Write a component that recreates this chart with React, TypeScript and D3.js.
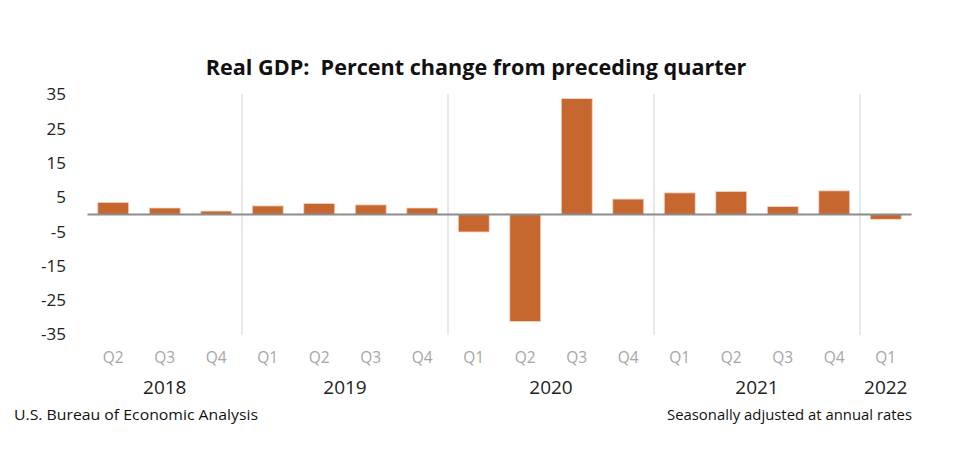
import React from "react";
import * as d3 from "d3";

const quarters = ["Q2","Q3","Q4","Q1","Q2","Q3","Q4","Q1","Q2","Q3","Q4","Q1","Q2","Q3","Q4","Q1"];
const quarterYears = [2018,2018,2018,2019,2019,2019,2019,2020,2020,2020,2020,2021,2021,2021,2021,2022];
const gdpChange = [3.5, 1.9, 1.0, 2.5, 3.2, 2.8, 1.9, -5.1, -31.2, 33.8, 4.5, 6.3, 6.7, 2.3, 6.9, -1.4];
const yTicks = [35, 25, 15, 5, -5, -15, -25, -35];
const years = [2018, 2019, 2020, 2021, 2022];

const W = 960, H = 459;
const FONT = "'Open Sans', sans-serif";

export default function App() {
  const keys = quarters.map((q, i) => `${quarterYears[i]}${q}`);
  const x = d3.scaleBand<string>().domain(keys).range([87.5, 911.5]).paddingInner(0.4).paddingOuter(0.2);
  const y = d3.scaleLinear().domain([-35, 35]).range([334.5, 94.5]);
  const step = x.step();
  const half = (x.paddingInner() * step) / 2;

  const dividers: number[] = [];
  keys.forEach((k, i) => {
    if (i > 0 && quarterYears[i] !== quarterYears[i - 1]) dividers.push((x(k) as number) - half);
  });

  const yearCenters = years.map((yr) => {
    const idx = keys.map((k, i) => i).filter((i) => quarterYears[i] === yr);
    const a = (x(keys[idx[0]]) as number) + x.bandwidth() / 2;
    const b = (x(keys[idx[idx.length - 1]]) as number) + x.bandwidth() / 2;
    return { yr, cx: (a + b) / 2 };
  });

  return (
    <svg width={W} height={H} style={{ position: "absolute", left: 0, top: 0, background: "#fff" }}>
      <rect width={W} height={H} fill="#fff" />
      <text x={476} y={75} textAnchor="middle" fontFamily={FONT} fontWeight={700} fontSize={21.6} fill="#111" style={{ whiteSpace: "pre" }}>
        {"Real GDP:  Percent change from preceding quarter"}
      </text>
      {dividers.map((dx, i) => (
        <line key={i} x1={dx} x2={dx} y1={94} y2={335} stroke="#e2e2e2" strokeWidth={1.5} />
      ))}
      {yTicks.map((t) => (
        <text key={t} x={66} y={y(t)} dy="0.35em" textAnchor="end" fontFamily={FONT} fontSize={17} fill="#222">
          {t}
        </text>
      ))}
      {gdpChange.map((v, i) => {
        const y0 = y(0), y1 = y(v);
        return (
          <rect
            key={keys[i]}
            x={x(keys[i]) as number}
            y={Math.min(y0, y1)}
            width={x.bandwidth()}
            height={Math.abs(y1 - y0)}
            fill="#C66730"
            stroke="#F3D3BE"
            strokeWidth={0.8}
          />
        );
      })}
      <line x1={87.5} x2={911.5} y1={y(0)} y2={y(0)} stroke="#8c8c8c" strokeWidth={2} />
      {keys.map((k, i) => (
        <text key={k} x={(x(k) as number) + x.bandwidth() / 2} y={363} textAnchor="middle" fontFamily={FONT} fontSize={15.5} fill="#a6a6a6">
          {quarters[i]}
        </text>
      ))}
      {yearCenters.map(({ yr, cx }) => (
        <text key={yr} x={cx} y={394} textAnchor="middle" fontFamily={FONT} fontSize={19} fill="#222">
          {yr}
        </text>
      ))}
      <text x={14} y={420} fontFamily={FONT} fontSize={15} fill="#111" textLength={244} lengthAdjust="spacingAndGlyphs">U.S. Bureau of Economic Analysis</text>
      <text x={667} y={420} fontFamily={FONT} fontSize={15} fill="#111" textLength={245} lengthAdjust="spacingAndGlyphs">Seasonally adjusted at annual rates</text>
    </svg>
  );
}
